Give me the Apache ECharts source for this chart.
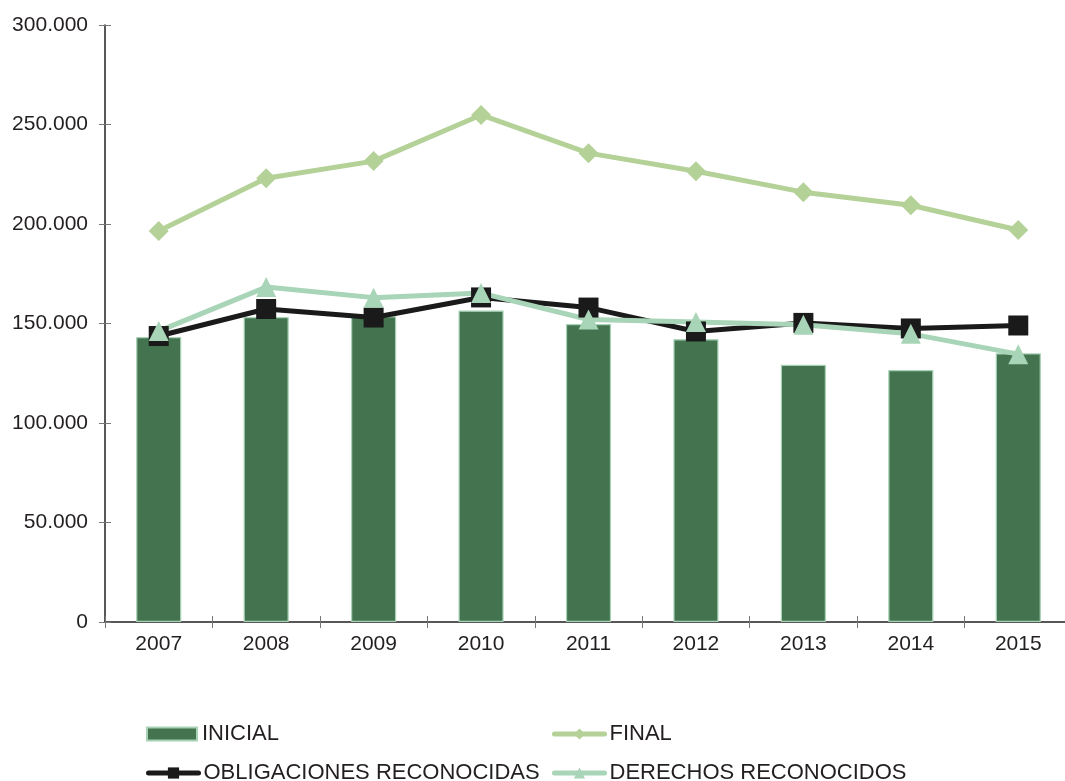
<!DOCTYPE html>
<html><head><meta charset="utf-8">
<script src="https://cdn.jsdelivr.net/npm/echarts@6/dist/echarts.min.js"></script>
<style>html,body{margin:0;padding:0;background:#fff;overflow:hidden}#c{width:1076px;height:781px}</style>
</head><body><div id="c"></div>
<script>
const categories = ['2007','2008','2009','2010','2011','2012','2013','2014','2015'];
const inicial = [143.2, 153.3, 153.6, 156.5, 149.7, 142.1, 129.3, 126.6, 135.0];
const final = [196.5, 223.0, 231.6, 254.8, 235.6, 226.5, 216.0, 209.4, 197.0];
const obligaciones = [143.7, 157.3, 153.0, 163.1, 158.0, 146.0, 150.3, 147.5, 149.0];
const derechos = [146.2, 168.3, 163.0, 165.3, 152.0, 150.8, 149.4, 144.8, 134.6];
const yTicks = [0, 50, 100, 150, 200, 250, 300];

const fontFam = '"Liberation Sans", Arial, sans-serif';
const fmt = v => v === 0 ? '0' : v.toFixed(3);
const chart = echarts.init(document.getElementById('c'), null, {renderer: 'canvas'});
const legText = {fontFamily: fontFam, fontSize: 22, color: '#231f20'};
const axText = {fontFamily: fontFam, fontSize: 21, color: '#231f20'};
function leg(name, left, top, icon) {
  const d = icon ? {name: name, icon: icon} : {name: name};
  return {left: left, top: top, orient: 'horizontal', itemWidth: 50, itemHeight: icon ? 13 : 14,
    textStyle: legText, padding: 0, selectedMode: false,
    lineStyle: {width: 5, cap: 'round'}, data: [d]};
}
chart.setOption({
  animation: false,
  grid: {left: 105, right: 4, top: 25, bottom: 159, containLabel: false},
  legend: [
    leg('INICIAL', 146, 723, 'rect'),
    leg('OBLIGACIONES RECONOCIDAS', 146, 762),
    leg('FINAL', 552, 723),
    leg('DERECHOS RECONOCIDOS', 552, 762)
  ],
  xAxis: [
    {type: 'category', data: categories, boundaryGap: true,
     axisLine: {lineStyle: {color: '#231f20', width: 1.5}},
     axisTick: {show: true, length: 6, lineStyle: {color: '#777'}},
     axisLabel: Object.assign({margin: 12}, axText)},
    {type: 'category', data: categories, position: 'bottom', boundaryGap: true,
     axisLine: {show: false}, axisTick: {show: true, inside: true, length: 6, lineStyle: {color: '#777'}},
     axisLabel: {show: false}}
  ],
  yAxis: [
    {type: 'value', min: 0, max: 300, interval: 50, splitLine: {show: false},
     axisLine: {show: true, lineStyle: {color: '#231f20', width: 1.5}},
     axisTick: {show: true, length: 6, lineStyle: {color: '#777'}},
     axisLabel: Object.assign({margin: 17, formatter: fmt}, axText)},
    {type: 'value', min: 0, max: 300, interval: 50, position: 'left', splitLine: {show: false},
     axisLine: {show: false}, axisTick: {show: true, inside: true, length: 6, lineStyle: {color: '#777'}},
     axisLabel: {show: false}}
  ],
  series: [
    {name: 'INICIAL', type: 'bar', data: inicial, barWidth: '42%',
     itemStyle: {color: '#43744f', borderColor: '#a7d2b6', borderWidth: 1.2}},
    {name: 'FINAL', type: 'line', data: final, symbol: 'diamond', symbolSize: 20,
     lineStyle: {color: '#b4d198', width: 5}, itemStyle: {color: '#b4d198'}},
    {name: 'OBLIGACIONES RECONOCIDAS', type: 'line', data: obligaciones, symbol: 'rect', symbolSize: 20,
     lineStyle: {color: '#1b1a1b', width: 5}, itemStyle: {color: '#1b1a1b'}},
    {name: 'DERECHOS RECONOCIDOS', type: 'line', data: derechos, symbol: 'triangle', symbolSize: 20,
     lineStyle: {color: '#a8d4b7', width: 5}, itemStyle: {color: '#a8d4b7'}}
  ]
});
</script></body></html>
